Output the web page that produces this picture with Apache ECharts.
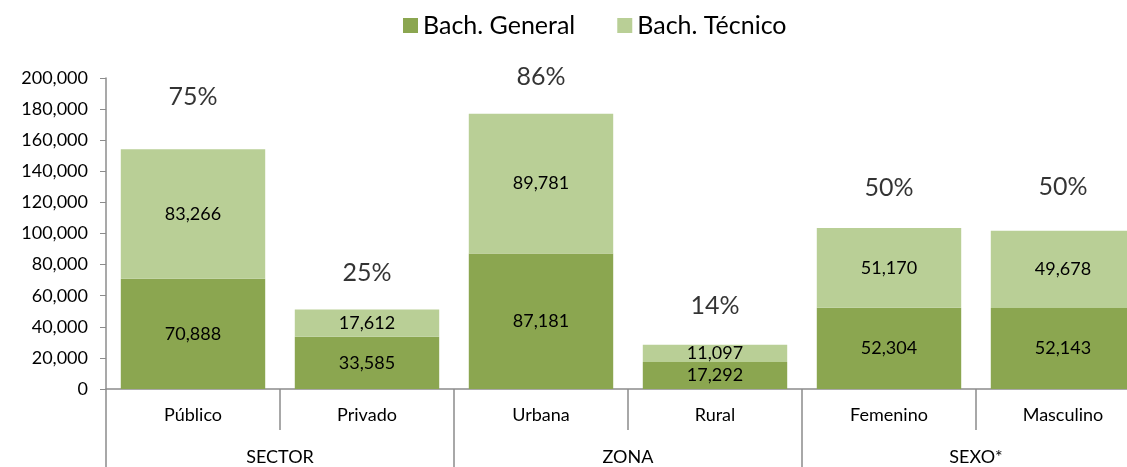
<!DOCTYPE html>
<html>
<head>
<meta charset="utf-8">
<script src="https://cdn.jsdelivr.net/npm/echarts@6/dist/echarts.min.js"></script>
<style>
  html, body { margin: 0; padding: 0; background: #fff; overflow: hidden; }
  #chart { width: 1150px; height: 467px; }
</style>
</head>
<body>
<div id="chart"></div>
<script>
// datos
var categorias = ['Público', 'Privado', 'Urbana', 'Rural', 'Femenino', 'Masculino']
var grupos = ['SECTOR', 'ZONA', 'SEXO*']
var general = [70888, 33585, 87181, 17292, 52304, 52143]
var tecnico = [83266, 17612, 89781, 11097, 51170, 49678]
var porcentaje = ['75%', '25%', '86%', '14%', '50%', '50%']

// separacion de la etiqueta % sobre la barra (como en el original)
var distPct = [40, 24, 24, 26, 28, 31]

var totales = general.map(function (v, i) { return v + tecnico[i] })

function miles(v) {
	return String(v).replace(/\B(?=(\d{3})+(?!\d))/g, ',')
}

var fuente = 'Lato'
var gris = '#8c8c8c'

var chart = echarts.init(document.getElementById('chart'))

var option = {
	animation: false,
	textStyle: { fontFamily: fuente },
	legend: {
		top: 8,
		left: 398,
		itemWidth: 15,
		itemHeight: 15,
		itemGap: 42,
		icon: 'rect',
		textStyle: { fontSize: 25, color: '#000', fontFamily: fuente },
		data: ['Bach. General', 'Bach. Técnico']
	},
	grid: {
		left: 106,
		right: 0,
		top: 78,
		bottom: 78
	},
	xAxis: [{
		type: 'category',
		data: categorias,
		position: 'bottom',
		offset: 0,
		axisLine: { lineStyle: { color: gris, width: 1.5 } },
		axisTick: { show: true, length: 41, lineStyle: { color: gris, width: 1.5 } },
		axisLabel: { color: '#000', fontSize: 18, margin: 17, fontFamily: fuente }
	}, {
		type: 'category',
		data: grupos,
		position: 'bottom',
		offset: 0,
		axisLine: { show: false },
		axisTick: { show: true, length: 80, lineStyle: { color: gris, width: 1.5 } },
		axisLabel: { color: '#000', fontSize: 18, margin: 59, fontFamily: fuente }
	}],
	yAxis: {
		type: 'value',
		min: 0,
		max: 200000,
		interval: 20000,
		splitLine: { show: false },
		axisLine: { show: true, lineStyle: { color: gris, width: 1.5 } },
		axisTick: { show: true, length: 6, lineStyle: { color: gris } },
		axisLabel: {
			color: '#000', fontSize: 18, margin: 18, fontFamily: fuente,
			formatter: function (v) { return miles(v) }
		}
	},
	series: [{
		name: 'Bach. General',
		type: 'bar',
		stack: 'total',
		barCategoryGap: '17%',
		itemStyle: { color: '#8ba650' },
		label: {
			show: true, position: 'inside', color: '#000', fontSize: 18, fontFamily: fuente,
			formatter: function (p) { return miles(p.value) }
		},
		data: general
	}, {
		name: 'Bach. Técnico',
		type: 'bar',
		stack: 'total',
		barCategoryGap: '17%',
		itemStyle: { color: '#b9cf96' },
		label: {
			show: true, position: 'inside', color: '#000', fontSize: 18, fontFamily: fuente,
			formatter: function (p) { return miles(p.value) }
		},
		data: tecnico
	}, {
		name: 'pct',
		type: 'scatter',
		symbolSize: 0,
		silent: true,
		z: 5,
		data: totales.map(function (v, i) {
			return {
				value: v,
				label: {
					show: true,
					position: 'top',
					distance: distPct[i],
					formatter: porcentaje[i],
					color: '#000',
					fontSize: 25,
					fontFamily: fuente
				}
			}
		})
	}]
}

chart.setOption(option)
</script>
</body>
</html>
